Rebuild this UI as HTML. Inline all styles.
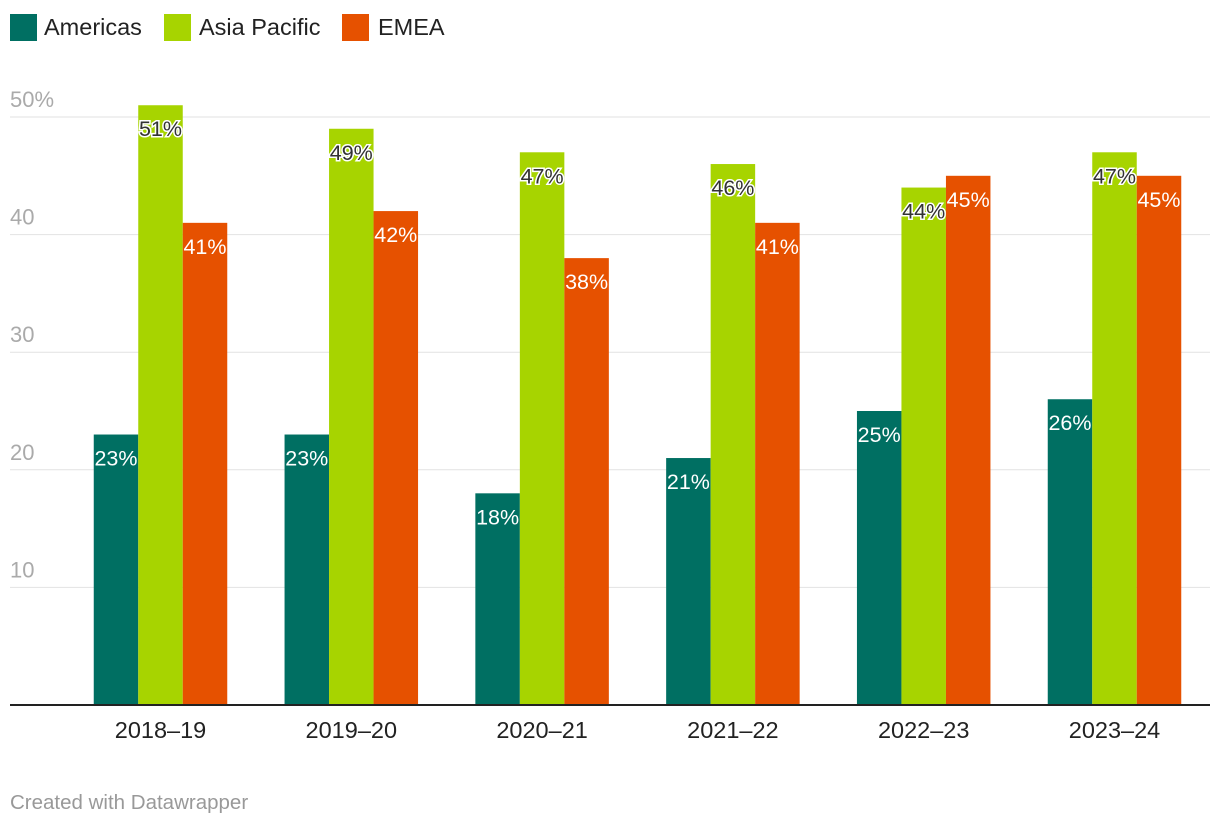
<!DOCTYPE html>
<html><head><meta charset="utf-8"><style>
body{margin:0;background:#fff;font-family:"Liberation Sans",sans-serif;}
svg{display:block}
</style></head><body>
<svg id="chart" width="1220" height="826" xmlns="http://www.w3.org/2000/svg">
<g>
<g><rect x="10" y="14" width="27" height="27" fill="#006f62"/><text x="44" y="35" font-size="23.5" fill="#222">Americas</text></g>
<g><rect x="164" y="14" width="27" height="27" fill="#a7d400"/><text x="199" y="35" font-size="23.5" fill="#222">Asia Pacific</text></g>
<g><rect x="342" y="14" width="27" height="27" fill="#e65100"/><text x="378" y="35" font-size="23.5" fill="#222">EMEA</text></g>
</g>
<g id="grid"></g>
<g id="bars"></g>
<g id="xlabels"></g>
<text x="10" y="809" font-size="20.5" fill="#999">Created with Datawrapper</text>
</svg>
<script>
const categories=["2018–19","2019–20","2020–21","2021–22","2022–23","2023–24"];
const americas=[23,23,18,21,25,26];
const asiaPacific=[51,49,47,46,44,47];
const emea=[41,42,38,41,45,45];
const yTicks=[10,20,30,40,50];
const NS="http://www.w3.org/2000/svg";
const y0=705,pxPer=11.76;
function yScale(v){return y0-v*pxPer;}
function xCenter(i){return 160.5+i*190.8;}
const bw=44.5;
function mk(tag,attrs,parent,text){const e=document.createElementNS(NS,tag);for(const k in attrs)e.setAttribute(k,attrs[k]);if(text!==undefined)e.textContent=text;parent.appendChild(e);return e;}
const grid=document.getElementById('grid');
yTicks.forEach(t=>{
 const l=mk('line',{x1:10,x2:1210,y1:yScale(t),y2:yScale(t),stroke:'#e2e2e2','stroke-width':1},grid);
 
 
 const tx=mk('text',{x:10,y:yScale(t)-10,'font-size':22,fill:'#aaa'},grid,t===50?'50%':String(t));
 
 
});
const bars=document.getElementById('bars');
const series=[[americas,'#006f62','americas','#fff'],[asiaPacific,'#a7d400','asia-pacific','#333'],[emea,'#e65100','emea','#fff']];
categories.forEach((c,i)=>{
 series.forEach((s,j)=>{
  const v=s[0][i];const x=xCenter(i)-1.5*bw+j*bw;
  const r=mk('rect',{x:x,y:yScale(v),width:bw,height:y0-yScale(v),fill:s[1]},bars);
  
  
  const t=mk('text',{x:x+bw/2,y:yScale(v)+31,'font-size':21.5,fill:s[3],'text-anchor':'middle',stroke:s[3]==='#fff'?'none':'#fff','stroke-width':3,'paint-order':'stroke'},bars,v+'%');
  
  
 });
});
const ax=mk('line',{x1:10,x2:1210,y1:y0,y2:y0,stroke:'#222','stroke-width':2},bars);


const xl=document.getElementById('xlabels');
categories.forEach((c,i)=>{
 const t=mk('text',{x:xCenter(i),y:738,'font-size':23.5,fill:'#222','text-anchor':'middle'},xl,c);
 
 
});
</script>
</body></html>
